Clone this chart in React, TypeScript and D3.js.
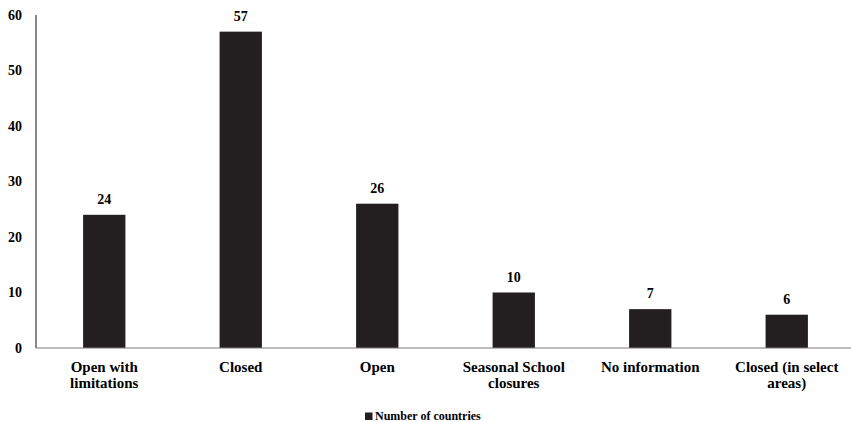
import React, { useEffect, useRef } from 'react';
import * as d3 from 'd3';

const categories: string[][] = [
    ['Open with', 'limitations'],
    ['Closed'],
    ['Open'],
    ['Seasonal School', 'closures'],
    ['No information'],
    ['Closed (in select', 'areas)']
];
const countries = [24, 57, 26, 10, 7, 6];
const yTicks = [0, 10, 20, 30, 40, 50, 60];
const seriesName = 'Number of countries';

const BAR_COLOR = '#231f20';
const FONT = "'Liberation Serif', 'Times New Roman', serif";

const App: React.FC = () => {
    const svgRef = useRef<SVGSVGElement>(null);

    useEffect(() => {
        if (!svgRef.current) return;
        const width = 851;
        const height = 422;
        const margin = { top: 15, right: -4, bottom: 74, left: 36 };

        const svg = d3.select(svgRef.current);
        svg.selectAll('*').remove();

        const xScale = d3.scaleBand<number>()
            .domain(d3.range(categories.length))
            .range([margin.left, width - margin.right])
            .paddingInner(0.69)
            .paddingOuter(0.345);

        const yScale = d3.scaleLinear()
            .domain([0, 60])
            .range([height - margin.bottom, margin.top]);

        const g = svg.append('g')
            .attr('font-family', FONT)
            .attr('font-weight', 700);

        // y tick labels
        g.selectAll('.ytick')
            .data(yTicks)
            .enter()
            .append('text')
            .attr('x', 22)
            .attr('y', d => yScale(d))
            .attr('dy', '0.35em')
            .attr('text-anchor', 'end')
            .attr('font-size', 14)
            .attr('fill', '#000')
            .text(d => d);

        // bars
        g.selectAll('.bar')
            .data(countries)
            .enter()
            .append('rect')
            .attr('x', (_d, i) => xScale(i) as number)
            .attr('y', d => yScale(d))
            .attr('width', xScale.bandwidth())
            .attr('height', d => yScale(0) - yScale(d))
            .attr('fill', BAR_COLOR);

        // value labels
        g.selectAll('.val')
            .data(countries)
            .enter()
            .append('text')
            .attr('x', (_d, i) => (xScale(i) as number) + xScale.bandwidth() / 2)
            .attr('y', d => yScale(d) - 11)
            .attr('text-anchor', 'middle')
            .attr('font-size', 14)
            .attr('fill', '#000')
            .text(d => d);

        // axes lines
        g.append('line')
            .attr('x1', margin.left).attr('x2', margin.left)
            .attr('y1', yScale(60)).attr('y2', yScale(0))
            .attr('stroke', '#3a3a3a')
            .attr('stroke-width', 1.2);
        g.append('line')
            .attr('x1', margin.left).attr('x2', width)
            .attr('y1', yScale(0)).attr('y2', yScale(0))
            .attr('stroke', '#7a7a7a')
            .attr('stroke-width', 1.2);

        // category labels
        const cat = g.selectAll('.cat')
            .data(categories)
            .enter()
            .append('text')
            .attr('text-anchor', 'middle')
            .attr('font-size', 15)
            .attr('fill', '#000')
            .attr('transform', (_d, i) => `translate(${(xScale(i) as number) + xScale.bandwidth() / 2},${yScale(0) + 24})`);
        cat.selectAll('tspan')
            .data(d => d)
            .enter()
            .append('tspan')
            .attr('x', 0)
            .attr('y', (_d, j) => j * 16)
            .text(d => d);

        // legend
        const legend = g.append('g').attr('transform', 'translate(365,420)');
        legend.append('rect')
            .attr('x', 0).attr('y', -7.5)
            .attr('width', 7.5).attr('height', 7.5)
            .attr('fill', BAR_COLOR);
        legend.append('text')
            .attr('x', 10).attr('y', 0)
            .attr('font-size', 12)
            .attr('fill', '#000')
            .text(seriesName);
    }, []);

    return (
        <svg
            ref={svgRef}
            width={851}
            height={422}
            style={{ position: 'absolute', left: 0, top: 0, background: '#fff' }}
        />
    );
};

export default App;
